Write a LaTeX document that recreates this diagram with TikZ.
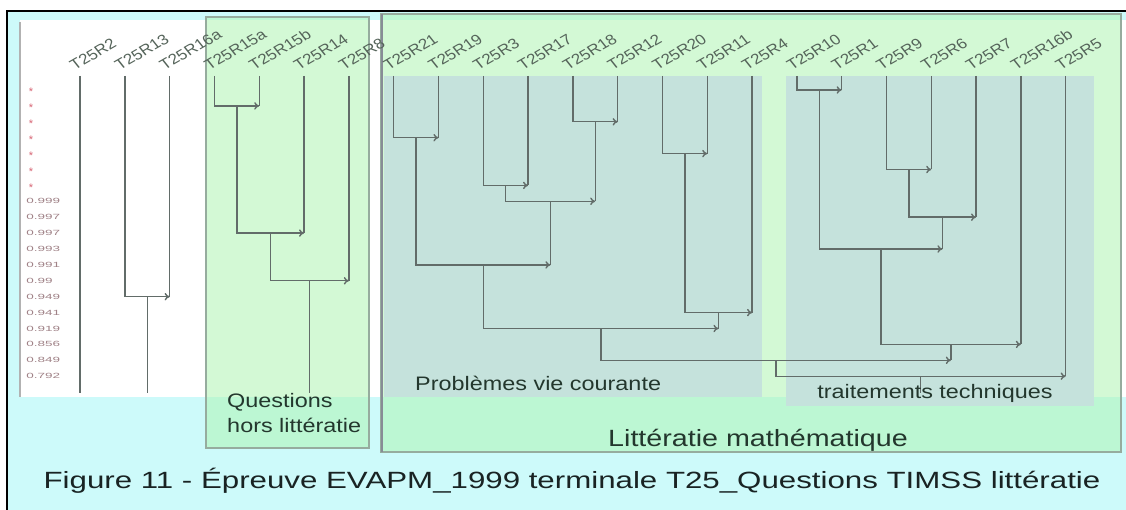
\documentclass[tikz,border=0pt]{standalone}
\usepackage{fontspec}
\setmainfont{Liberation Sans}
\usetikzlibrary{arrows.meta}
\definecolor{bgcyan}{RGB}{205,250,250}
\definecolor{grn}{RGB}{175,245,180}
\definecolor{bluegray}{RGB}{197,226,220}
\definecolor{boxedge}{RGB}{150,172,158}
\definecolor{leftedge}{RGB}{135,140,150}
\definecolor{lineg}{RGB}{98,108,105}
\definecolor{labg}{RGB}{85,100,90}
\definecolor{axisc}{RGB}{160,130,135}
\definecolor{dotc}{RGB}{215,100,115}
\definecolor{txt}{RGB}{35,55,45}
\definecolor{captc}{RGB}{25,35,35}
\begin{document}
\begin{tikzpicture}[x=1pt,y=-1pt,
  link/.style={draw=lineg,line width=1.4pt},
  tip/.style={-{To[length=5pt,width=7.5pt]}},
  leaflab/.style={anchor=south west,inner sep=0pt,text=labg,font=\fontsize{14.5}{14.5}\selectfont,xscale=1.18,rotate=34},
  axnum/.style={anchor=west,inner sep=0pt,text=axisc,font=\fontsize{7.5}{8}\selectfont,xscale=1.8},
  axdot/.style={inner sep=0pt,text=dotc,font=\fontsize{11}{11}\selectfont},
  boxtxt/.style={anchor=west,inner sep=0pt,text=txt,font=\fontsize{19.5}{20}\selectfont,xscale=1.2},
  bigtxt/.style={inner sep=0pt,text=txt,font=\fontsize{23.5}{24}\selectfont,xscale=1.22},
  captxt/.style={inner sep=0pt,text=captc,font=\fontsize{23.5}{24}\selectfont,xscale=1.33},
  grpbox/.style={fill=grn,fill opacity=0.55,draw=boxedge,line width=1.8pt}
]
\useasboundingbox (0,0) rectangle (1126,510);
\clip (0,0) rectangle (1126,510);
% background and frame
\fill[white] (0,0) rectangle (1126,510);
\fill[bgcyan] (7,11) rectangle (1132,516);
\draw[black,line width=2.5pt] (7,516) -- (7,11) -- (1132,11);
\fill[white] (20,20) rectangle (1126,397);
\draw[gray!60,line width=1.8pt] (20,22) -- (20,397);
% group boxes
\path[grpbox] (206,17) rectangle (369,448);
\path[grpbox] (381,14) rectangle (1121,452);
\draw[leftedge,line width=2.5pt] (382,14) -- (382,452);
\fill[bluegray] (384,76) rectangle (762,397);
\fill[bluegray] (786,76) rectangle (1094,406);
% axis labels
\foreach \k in {0,...,6} \node[axdot] (d\k) at (31,{92+15.9*\k}) {*};
\foreach \v [count=\k from 7] in {0.999,0.997,0.997,0.993,0.991,0.99,0.949,0.941,0.919,0.856,0.849,0.792}
  \node[axnum] (n\k) at (26,{90+15.9*\k}) {\v};
% leaves
\foreach \n [count=\i from 0] in {T25R2,T25R13,T25R16a,T25R15a,T25R15b,T25R14,T25R8,T25R21,T25R19,T25R3,T25R17,T25R18,T25R12,T25R20,T25R11,T25R4,T25R10,T25R1,T25R9,T25R6,T25R7,T25R16b,T25R5}{
  \pgfmathsetmacro\xx{80+44.8*\i}
  \coordinate (L\i) at (\xx,76);
  \node[leaflab] (t\i) at (\xx-5,71) {\n};
}
% merge points
\foreach \k/\xx/\yy in {0/819.2/90,1/236.8/105.9,2/595.2/121.8,3/416/137.7,4/684.8/153.6,5/908.8/169.5,6/505.6/185.4,7/550.4/201.3,8/942.4/217.2,9/270.4/233.1,10/880.8/249,11/483.2/264.9,12/309.6/280.8,13/147.2/296.7,14/718.4/312.6,15/600.8/328.5,16/950.8/344.4,17/775.8/360.3,18/920.7/376.2}
  \coordinate (M\k) at (\xx,\yy);
\coordinate (bot) at (0,393);
\foreach \k/\a/\b in {0/L16/L17,1/L3/L4,2/L11/L12,3/L7/L8,4/L13/L14,5/L18/L19,6/L9/L10,7/M6/M2,8/M5/L20,9/M1/L5,10/M0/M8,11/M3/M7,12/M9/L6,13/L1/L2,14/M4/L15,15/M11/M14,16/M10/L21,17/M15/M16,18/M17/L22}{
  \draw[link] (\b) -- (\b |- M\k);
  \draw[link,tip] (\a) |- (\b |- M\k);
}
\foreach \c in {L0,M13,M12,M18}
  \draw[link] (\c) -- (\c |- bot);
% texts
\node[boxtxt] (q1) at (227,402) {Questions};
\node[boxtxt] (q2) at (227,425) {hors littératie};
\node[boxtxt] (pv) at (415,383) {Problèmes vie courante};
\node[boxtxt] (tt) at (817,393) {traitements techniques};
\node[bigtxt] (lm) at (758,440) {Littératie mathématique};
\node[captxt] (cap) at (572,481) {Figure 11 - Épreuve EVAPM\_1999 terminale T25\_Questions TIMSS littératie};
\end{tikzpicture}
\end{document}
